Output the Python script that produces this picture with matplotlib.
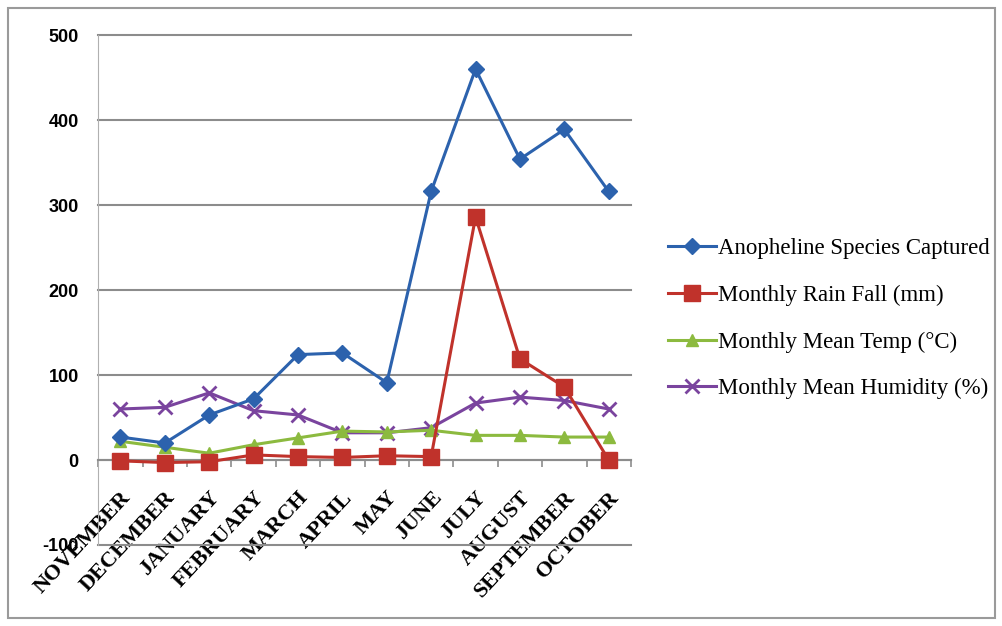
import matplotlib.pyplot as plt
import numpy as np
from matplotlib.patches import Rectangle

months = ['NOVEMBER', 'DECEMBER', 'JANUARY', 'FEBRUARY', 'MARCH', 'APRIL',
          'MAY', 'JUNE', 'JULY', 'AUGUST', 'SEPTEMBER', 'OCTOBER']
anopheline = [27, 20, 53, 72, 124, 126, 91, 316, 460, 354, 389, 316]
rainfall = [-1, -3, -2, 6, 4, 3, 5, 4, 286, 119, 86, 0]
temp = [22, 15, 8, 18, 26, 34, 33, 35, 29, 29, 27, 27]
humidity = [60, 62, 79, 58, 53, 32, 32, 38, 67, 74, 70, 60]

plt.rcParams['axes.unicode_minus'] = False

fig = plt.figure(figsize=(10.03, 6.26), dpi=100)
fig.patches.append(Rectangle((0.008, 0.012), 0.984, 0.975, transform=fig.transFigure,
                             fill=False, edgecolor='#9a9a9a', linewidth=1.5))
ax = fig.add_axes([0.098, 0.1294, 0.531, 0.8146])
x = np.arange(len(months))

ax.plot(x, anopheline, color='#2c62ad', marker='D', markersize=8, linewidth=2.2,
        label='Anopheline Species Captured', zorder=5)
ax.plot(x, rainfall, color='#c0322b', marker='s', markersize=11, linewidth=2.2,
        label='Monthly Rain Fall (mm)', zorder=4)
ax.plot(x, temp, color='#8cba3f', marker='^', markersize=9, linewidth=2.2,
        label='Monthly Mean Temp (°C)', zorder=3)
ax.plot(x, humidity, color='#7a449e', marker='x', markersize=10, markeredgewidth=2,
        linewidth=2.2, label='Monthly Mean Humidity (%)', zorder=2)

ax.set_ylim(-100, 500)
ax.set_xlim(-0.5, 11.5)
ax.set_yticks(np.arange(-100, 501, 100))
ax.yaxis.grid(True, color='#8c8c8c', linewidth=1.5, clip_on=False)
ax.set_axisbelow(True)
for s in ['top', 'right']:
    ax.spines[s].set_visible(False)
ax.spines['left'].set_color('#b0b0b0')
ax.spines['bottom'].set_position(('data', 0))
ax.spines['bottom'].set_color('#8c8c8c')
ax.spines['bottom'].set_linewidth(1.5)
ax.tick_params(axis='y', length=0, pad=14)
ax.tick_params(axis='x', which='major', length=0, pad=20)

ax.set_xticks(x)
ax.set_xticks(np.arange(-0.5, 12, 1), minor=True)
ax.tick_params(axis='x', which='minor', length=5, width=1.2, color='#8c8c8c')
ax.set_xticklabels(months, rotation=47, ha='right', va='top', rotation_mode='anchor',
                   fontfamily='Liberation Serif', fontweight='bold', fontsize=16)
for lbl in ax.get_yticklabels():
    lbl.set_fontweight('bold')
    lbl.set_fontsize(13)
    lbl.set_fontfamily('Liberation Sans')

fig.legend(loc='center left', bbox_to_anchor=(0.666, 0.491), frameon=False,
           prop={'family': 'Liberation Serif', 'size': 16.5}, handlelength=2.1,
           handletextpad=0.1, labelspacing=1.12, borderpad=0, borderaxespad=0)

fig.savefig('out.png', dpi=100)
